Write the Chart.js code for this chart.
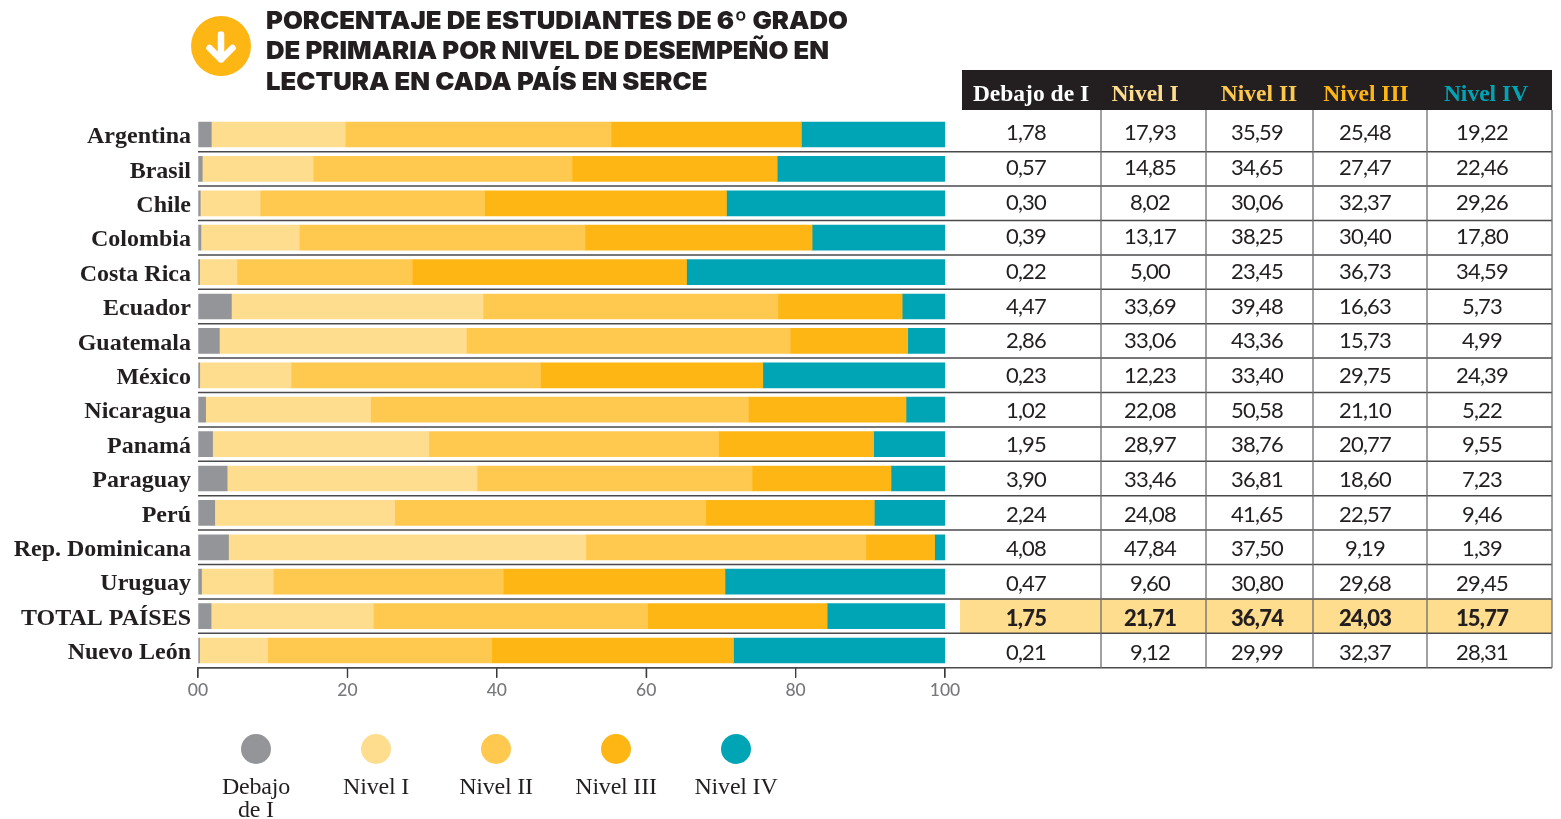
<!DOCTYPE html>
<html lang="es"><head><meta charset="utf-8">
<script src="https://cdn.jsdelivr.net/npm/chart.js@4/dist/chart.umd.min.js"></script>
<style>
html,body{margin:0;padding:0;background:#fff;overflow:hidden}
#wrap{position:relative;width:1561px;height:819px;overflow:hidden}
canvas{position:absolute;left:0;top:0}
.t{position:absolute;white-space:nowrap;color:#231f20}
.title{font:900 24.5px/30.4px Inter,sans-serif;letter-spacing:0;transform:scaleX(1.05);transform-origin:0 50%}
.hd{font:bold 23.5px/30px "Liberation Serif",serif;transform:translateX(-50%);text-align:center}
.num{font:400 22px/26px Lato,sans-serif;letter-spacing:-.8px;transform:translateX(-50%)}
.num.b{font-weight:900}
.lg{font:400 24px/23px "Liberation Serif",serif;transform:translateX(-50%);text-align:center;white-space:pre-line;letter-spacing:-.2px}
.dot{position:absolute;width:30px;height:30px;border-radius:50%}
svg{position:absolute}
</style></head><body><div id="wrap"><canvas id="c" width="1561" height="819"></canvas></div>
<script>
const categories=["Argentina","Brasil","Chile","Colombia","Costa Rica","Ecuador","Guatemala","México","Nicaragua","Panamá","Paraguay","Perú","Rep. Dominicana","Uruguay","TOTAL PAÍSES","Nuevo León"];
const debajoI=[1.78,0.57,0.30,0.39,0.22,4.47,2.86,0.23,1.02,1.95,3.90,2.24,4.08,0.47,1.75,0.21];
const nivelI=[17.93,14.85,8.02,13.17,5.00,33.69,33.06,12.23,22.08,28.97,33.46,24.08,47.84,9.60,21.71,9.12];
const nivelII=[35.59,34.65,30.06,38.25,23.45,39.48,43.36,33.40,50.58,38.76,36.81,41.65,37.50,30.80,36.74,29.99];
const nivelIII=[25.48,27.47,32.37,30.40,36.73,16.63,15.73,29.75,21.10,20.77,18.60,22.57,9.19,29.68,24.03,32.37];
const nivelIV=[19.22,22.46,29.26,17.80,34.59,5.73,4.99,24.39,5.22,9.55,7.23,9.46,1.39,29.45,15.77,28.31];
const seriesNames=["Debajo de I","Nivel I","Nivel II","Nivel III","Nivel IV"];
const seriesColors=["#939598","#ffdd8f","#ffc84f","#fdb614","#00a5b5"];
const headColors=["#ffffff","#ffdd8f","#ffc84f","#fdb614","#00a5b5"];
const legendLabels=["Debajo\nde I","Nivel I","Nivel II","Nivel III","Nivel IV"];
const xTickLabels={0:"00",20:"20",40:"40",60:"60",80:"80",100:"100"};
const titleLines=["PORCENTAJE DE ESTUDIANTES DE 6º GRADO","DE PRIMARIA POR NIVEL DE DESEMPEÑO EN","LECTURA EN CADA PAÍS EN SERCE"];
const allSeries=[debajoI,nivelI,nivelII,nivelIII,nivelIV];
const totalIndex=categories.indexOf("TOTAL PAÍSES");

const tableLeft=962,tableRight=1552,headTop=70,headBottom=110,highlightLeft=960;
const colLines=[1101,1206,1313,1427,1552];
const colCenters=[1026,1150,1257,1365,1482];
const headCenters=[1031,1145,1259,1366,1486];
const legendCenters=[256,376,496,616,736];

const tablePlugin={id:"tablePlugin",beforeDatasetsDraw(ch){
  const c=ch.ctx,y=ch.scales.y,x=ch.scales.x;
  const step=y.getPixelForValue(1)-y.getPixelForValue(0);
  const top=y.getPixelForValue(0)-step/2;
  const bottom=top+step*categories.length;
  c.save();
  c.fillStyle="#231f20";c.fillRect(tableLeft,headTop,tableRight-tableLeft,headBottom-headTop);
  c.fillStyle=seriesColors[1];
  c.fillRect(highlightLeft,top+step*totalIndex,tableRight-highlightLeft,step);
  c.strokeStyle="#4a4a4c";c.lineWidth=1.5;
  for(let i=1;i<=categories.length;i++){
    const yy=top+step*i;
    c.beginPath();c.moveTo(x.left,yy);c.lineTo(tableRight,yy);c.stroke();
  }
  c.lineWidth=1.3;c.strokeStyle="#6d6e71";
  colLines.forEach(px=>{c.beginPath();c.moveTo(px,headBottom);c.lineTo(px,bottom);c.stroke();});
  c.lineWidth=1.2;c.strokeStyle="#3a3a3c";
  Object.keys(xTickLabels).forEach(v=>{const px=x.getPixelForValue(+v);c.beginPath();c.moveTo(px,bottom);c.lineTo(px,bottom+10);c.stroke();});
  c.restore();
}};

const chart=new Chart(document.getElementById("c"),{
  type:"bar",
  data:{labels:categories,datasets:seriesNames.map((n,i)=>({label:n,data:allSeries[i],backgroundColor:seriesColors[i],barThickness:25,borderWidth:0}))},
  options:{
    responsive:false,animation:false,indexAxis:"y",
    layout:{padding:{left:0,top:117.3,right:616,bottom:111.3}},
    plugins:{legend:{display:false},tooltip:{enabled:false},title:{display:false}},
    scales:{
      x:{stacked:true,min:0,max:100,
        afterFit(a){a.height=40;},
        afterBuildTicks(a){a.ticks=Object.keys(xTickLabels).map(v=>({value:+v}));},
        border:{display:true,color:"#4a4a4c",width:1.5},
        grid:{drawOnChartArea:false,drawTicks:true,tickLength:10,color:"#3a3a3c",tickColor:"#3a3a3c",tickWidth:1.2,lineWidth:1.2},
        ticks:{padding:2,maxRotation:0,autoSkip:false,color:"#77787b",font:{family:"Lato",size:17.5,weight:"500"},callback:v=>xTickLabels[v]}},
      y:{stacked:true,
        afterFit(a){
          a.width=198;
          if(!a._labelShifted&&a._computeLabelItems){
            const orig=a._computeLabelItems.bind(a);
            a._computeLabelItems=area=>orig(area).map(it=>({...it,textOffset:(it.textOffset||0)+2.5}));
            a._labelShifted=true;
          }
        },
        border:{display:false},grid:{display:false,drawTicks:false},
        ticks:{padding:7,color:"#231f20",autoSkip:false,font:{family:"'Liberation Serif'",size:24,weight:"bold"}}}
    }
  },
  plugins:[tablePlugin]
});

const wrap=document.getElementById("wrap");
function put(cls,txt,left,top,color){const d=document.createElement("div");d.className="t "+cls;d.textContent=txt;d.style.left=left+"px";d.style.top=top+"px";if(color)d.style.color=color;wrap.appendChild(d);return d;}
titleLines.forEach((s,i)=>put("title",s,266,5+i*30.4));
seriesNames.forEach((s,i)=>put("hd",s,headCenters[i],78,headColors[i]));
categories.forEach((_,r)=>allSeries.forEach((arr,i)=>{
  put("num"+(r===totalIndex?" b":""),arr[r].toFixed(2).replace(".",","),colCenters[i],119.4+r*34.67);
}));
legendLabels.forEach((s,i)=>{
  const d=document.createElement("div");d.className="dot";d.style.left=(legendCenters[i]-15)+"px";d.style.top="734px";d.style.background=seriesColors[i];wrap.appendChild(d);
  put("lg",s,legendCenters[i],775);
});
const icon=document.createElementNS("http://www.w3.org/2000/svg","svg");
icon.setAttribute("width","62");icon.setAttribute("height","62");icon.setAttribute("viewBox","0 0 62 62");
icon.style.left="190px";icon.style.top="15px";
icon.innerHTML='<circle cx="31" cy="31" r="30" fill="#fdb614"/><path d="M31 19.500V44.500M19.500 33L31 44.500L42.500 33" fill="none" stroke="#fff" stroke-width="6.500" stroke-linecap="round" stroke-linejoin="round"/>';
wrap.appendChild(icon);
</script></body></html>
